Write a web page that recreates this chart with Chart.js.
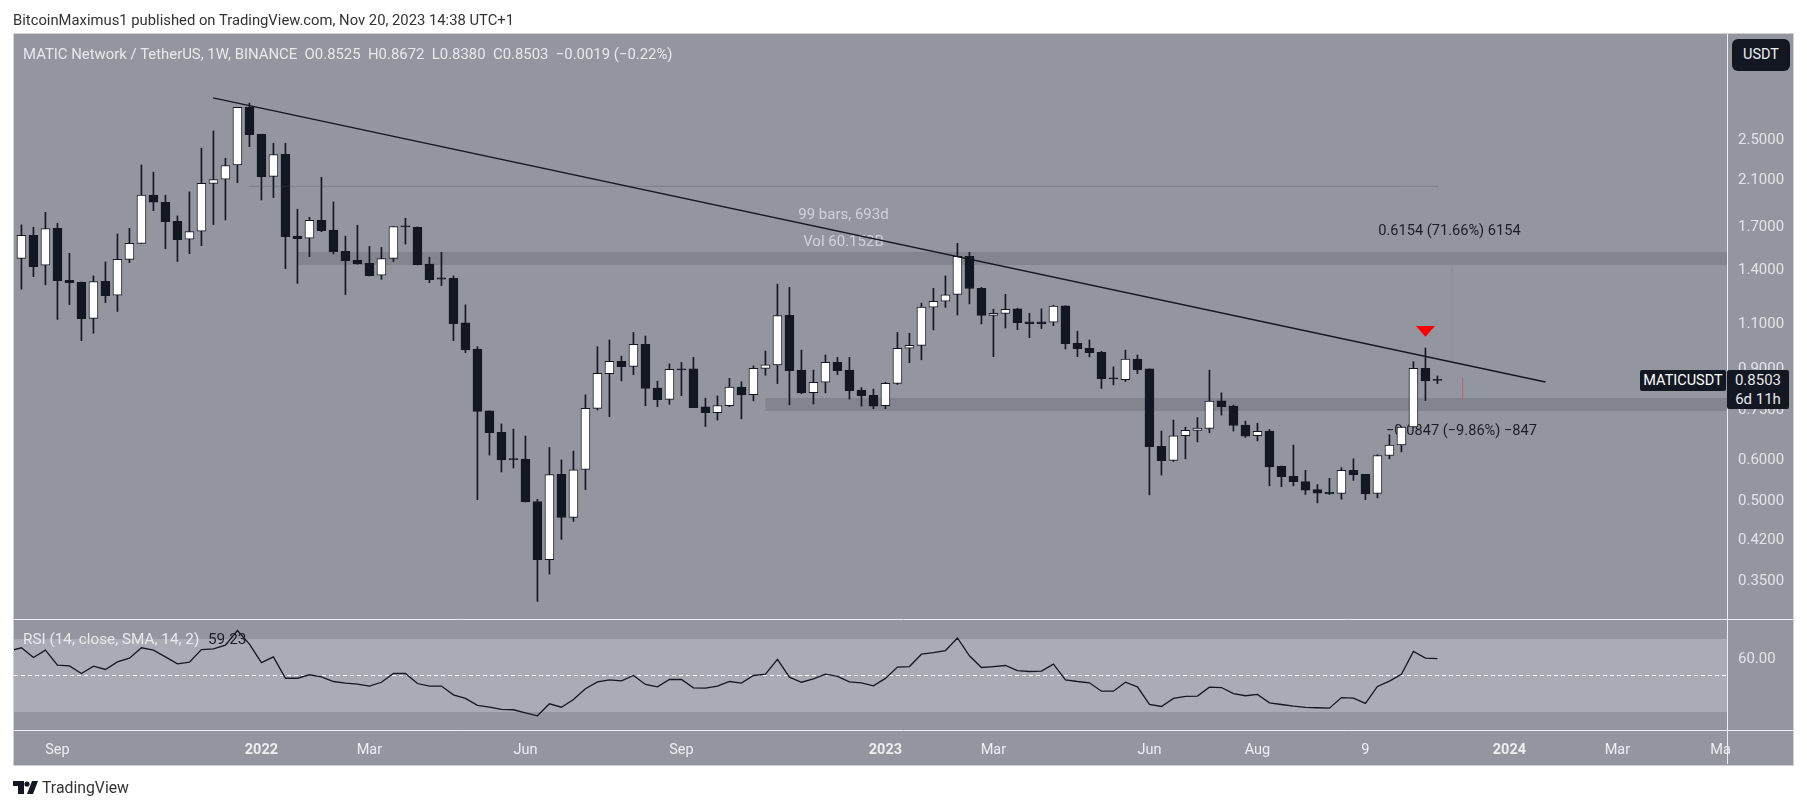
<!DOCTYPE html>
<html lang="en">
<head>
<meta charset="UTF-8">
<title>MATIC Network / TetherUS</title>
<script src="https://cdn.jsdelivr.net/npm/chart.js"></script>
<style>
    body { margin: 0; background: #fff; font-family: Roboto, sans-serif; }
    #frame { position: absolute; left: 13px; top: 33px; width: 1779px; height: 731px; background: #93969f; border: 1px solid #cfd1d6; }
    canvas { position: absolute; left: 0; top: 0; }
    .txt { position: absolute; white-space: pre; }
    #published { left: 13px; top: 11px; font-size: 14.8px; color: #333; }
    #legend { left: 23px; top: 45px; font-size: 14.9px; color: #e8e9ec; }
    #logoText { left: 42px; top: 778px; font-size: 15.8px; color: #333; }
    #usdt { left: 1732px; top: 39px; width: 58px; height: 32px; line-height: 32px; text-align: center; background: #131722; border-radius: 6px; color: #eceef2; font-size: 14.5px; }
    #symbol { left: 1640px; top: 370px; width: 86px; height: 21px; line-height: 22px; text-align: center; background: #131722; border-radius: 2px; color: #fff; font-size: 14.5px; }
    #lastPrice { left: 1727px; top: 370px; width: 62px; height: 38px; padding-top: 1px; background: #131722; border-radius: 2px; color: #e6e7ea; font-size: 15px; text-align: center; line-height: 19px; }
    svg { position: absolute; left: 13px; top: 781px; }
</style>
</head>
<body>
<div id="frame"></div>
<canvas id="chart" width="1807" height="809"></canvas>
<div class="txt" id="published">BitcoinMaximus1 published on TradingView.com, Nov 20, 2023 14:38 UTC+1</div>
<div class="txt" id="legend">MATIC Network / TetherUS, 1W, BINANCE  O0.8525  H0.8672  L0.8380  C0.8503  −0.0019 (−0.22%)</div>
<div class="txt" id="usdt">USDT</div>
<div class="txt" id="symbol">MATICUSDT</div>
<div class="txt" id="lastPrice">0.8503
6d 11h</div>
<svg width="25" height="13" viewBox="0 0 25 13"><path d="M0 0h11v13H5V5H0z" fill="#131722"/><circle cx="14" cy="3" r="2.6" fill="#131722"/><path d="M19 0h6l-5 13h-6z" fill="#131722"/></svg>
<div class="txt" id="logoText">TradingView</div>
<script>
// weekly candles, values
var opens = [1.466,1.625,1.421,1.676,1.329,1.317,1.121,1.323,1.243,1.459,
    1.567,1.943,1.883,1.730,1.596,1.654,2.049,2.086,2.224,2.877,
    2.551,2.114,2.333,1.618,1.603,1.737,1.662,1.512,1.453,1.434,
    1.359,1.466,1.692,1.684,1.428,1.343,1.341,1.099,.978,.742,
    .674,.599,.598,.495,.382,.559,.461,.571,.750,.876,
    .926,.905,.998,.821,.781,.895,.895,.755,.736,.759,
    .825,.798,.897,.911,1.136,.890,.805,.843,.921,.890,
    .814,.795,.759,.839,.981,.994,1.179,1.210,1.248,1.479,
    1.282,1.136,1.146,1.170,1.104,1.104,1.102,1.186,1.003,.981,
    .963,.860,.853,.935,.895,.633,.595,.664,.680,.686,
    .776,.758,.696,.664,.678,.579,.554,.541,.522,.516,
    .513,.569,.559,.513,.608,.637,.691,.897,.8525];
var closes = [1.625,1.413,1.674,1.327,1.315,1.120,1.321,1.241,1.459,1.567,
    1.943,1.883,1.727,1.593,1.651,2.049,2.083,2.218,2.877,2.547,
    2.111,2.329,1.615,1.601,1.737,1.659,1.510,1.451,1.430,1.357,
    1.464,1.689,1.687,1.425,1.333,1.335,1.095,.974,.740,.673,
    .596,.597,.494,.382,.558,.461,.570,.750,.877,.926,
    .904,.998,.820,.780,.893,.891,.753,.736,.760,.825,
    .797,.897,.911,1.135,.888,.804,.843,.921,.888,.812,
    .794,.758,.839,.981,.994,1.179,1.210,1.246,1.479,1.281,
    1.136,1.147,1.168,1.100,1.095,1.095,1.184,1.001,.979,.962,
    .857,.856,.935,.892,.632,.594,.664,.680,.687,.775,
    .756,.695,.663,.677,.578,.553,.541,.521,.514,.512,
    .569,.558,.512,.608,.637,.690,.897,.848,.8503];
var highs = [1.702,1.684,1.800,1.714,1.499,1.319,1.355,1.442,1.634,1.676,
    2.224,2.153,1.943,1.771,1.972,2.396,2.588,2.291,2.877,2.930,
    2.551,2.450,2.450,1.825,1.761,2.105,1.886,1.618,1.699,1.546,
    1.539,1.689,1.753,1.687,1.473,1.506,1.355,1.191,.988,.742,
    .700,.684,.663,.500,.630,.596,.620,.797,.988,1.018,
    .947,1.053,1.036,.847,.915,.921,.942,.785,.793,.858,
    .845,.907,.969,1.306,1.288,.973,.890,.952,.942,.942,
    .823,.818,.843,1.053,1.049,1.200,1.282,1.355,1.567,1.506,
    1.288,1.168,1.248,1.173,1.147,1.170,1.189,1.186,1.059,1.018,
    .968,.903,.973,.952,.895,.678,.712,.690,.720,.890,
    .804,.761,.709,.702,.683,.580,.637,.569,.534,.549,
    .576,.599,.559,.610,.667,.692,.924,.982,.8672];
var lows = [1.277,1.351,1.302,1.116,1.192,1.015,1.049,1.203,1.156,1.438,
    1.567,1.814,1.530,1.445,1.497,1.551,1.704,1.740,2.055,2.414,
    1.902,1.922,1.400,1.310,1.477,1.651,1.495,1.247,1.428,1.355,
    1.335,1.445,1.562,1.423,1.315,1.298,1.015,.962,.499,.609,
    .565,.575,.494,.317,.358,.418,.453,.522,.745,.723,
    .848,.872,.759,.756,.764,.794,.753,.692,.712,.756,
    .716,.776,.870,.838,.762,.801,.765,.804,.872,.782,
    .758,.749,.749,.835,.920,.932,1.065,1.177,1.138,1.196,
    1.094,.945,1.074,1.066,1.029,1.071,1.085,.978,.945,.944,
    .820,.833,.846,.876,.510,.557,.592,.599,.646,.673,
    .728,.678,.659,.649,.531,.529,.531,.511,.492,.511,
    .500,.544,.499,.503,.599,.618,.690,.777,.8380];
// first rsi value belongs to the week before the first candle
var rsiValues = [63.5,65.2,59.9,63.9,55.7,55.3,51.1,55.1,53.3,57.5,59.5,
    65.2,63.9,60.2,56.4,57.3,64.2,64.6,66.6,74.7,67.2,
    57.1,60.2,48.5,48.5,50.4,49.3,46.7,45.8,45.3,44.2,
    46.3,51.1,51.1,45.6,44.2,44.2,39.4,37.4,33.6,32.6,
    31.4,31.2,29.5,27.9,34.5,32.6,36.8,42.7,46.5,47.6,
    47.1,50,45.1,43.8,47.8,47.8,43.2,43.1,44.2,46.7,
    45.8,50,50.7,58.8,49.1,46.3,48.2,50.7,49.5,46.5,
    46,44.3,48.4,54.6,54.9,61.7,62.6,63.7,70.6,60.8,
    54.4,54.9,55.5,52.7,52.2,52.4,56.2,47.6,46.7,46,
    41.4,41.4,46.3,43.8,34.1,33,37.4,38.5,38.7,43.6,
    43.4,40.1,38.9,39.6,35,34.1,33.2,32.5,32.3,32.1,
    37.9,37.6,34.7,44,46.9,50.7,63.2,59.5,59.23];

var priceTicks = [2.5, 2.1, 1.7, 1.4, 1.1, 0.9, 0.75, 0.6, 0.5, 0.42, 0.35];
var rsiTicks = [60];
var timeTicks = [3, 20, 29, 42, 55, 72, 81, 94, 103, 112, 124, 133, 141.6];
var timeLabels = ['Sep', '2022', 'Mar', 'Jun', 'Sep', '2023', 'Mar', 'Jun', 'Aug', '9', '2024', 'Mar', 'Ma'];
var yearLabels = ['2022', '2023', '2024'];

// drawings on the price pane, as [week, price]
var trendLine = [[15.97, 3.0], [127.0, 0.844]];
var upperZone = [1.508, 1.423];
var upperZoneStart = 23.0;
var lowerZone = [0.786, 0.7416];
var lowerZoneStart = 62.0;
var rangeLine = [[18.95, 2.022], [118.1, 2.022]];
var greenMark = [[119.2, 1.423], [119.2, 0.92]];
var redMark = [[120.1, 0.86], [120.1, 0.78]];
var arrowMark = [117, 1.084, 1.033];

var DARK = '#131722';
var weeks = opens.map(function (v, i) { return i; });
var xMin = -0.62, xMax = 142.13;

function xy(list) {
    return list.map(function (p) { return { x: p[0], y: p[1] }; });
}

var panePlugin = {
    id: 'pane',
    beforeDatasetsDraw: function (chart) {
        var c = chart.ctx, x = chart.scales.x, y = chart.scales.y, r = chart.scales.rsi;
        var area = chart.chartArea;
        c.save();

        // rsi band
        c.fillStyle = '#a9acb5';
        c.fillRect(area.left, r.getPixelForValue(70), area.width, r.getPixelForValue(30) - r.getPixelForValue(70));

        // support / resistance zones
        c.fillStyle = '#82858e';
        [[upperZone, upperZoneStart], [lowerZone, lowerZoneStart]].forEach(function (z) {
            var top = y.getPixelForValue(z[0][0]), bottom = y.getPixelForValue(z[0][1]);
            var left = x.getPixelForValue(z[1]);
            c.fillRect(left, top, area.right - left, bottom - top);
        });

        // pane separators
        c.strokeStyle = '#eceef1';
        c.lineWidth = 1;
        c.beginPath();
        c.moveTo(area.left, Math.round(y.bottom) + 0.5);
        c.lineTo(1793, Math.round(y.bottom) + 0.5);
        c.moveTo(area.left, Math.round(area.bottom) + 0.5);
        c.lineTo(1793, Math.round(area.bottom) + 0.5);
        c.moveTo(Math.round(area.right) + 0.5, area.top);
        c.lineTo(Math.round(area.right) + 0.5, 764);
        c.stroke();

        // measure labels sit under the candles
        c.textBaseline = 'middle';
        c.textAlign = 'center';
        c.font = '15px Roboto';
        c.fillStyle = '#d0d2d7';
        c.fillText('99 bars, 693d', x.getPixelForValue(68.5), y.getPixelForValue(1.773));
        c.fillText('Vol 60.152B', x.getPixelForValue(68.5), y.getPixelForValue(1.578));
        c.font = '14.6px Roboto';
        c.fillStyle = '#1a1d26';
        c.fillText('0.6154 (71.66%) 6154', x.getPixelForValue(119), y.getPixelForValue(1.656));
        c.fillText('−0.0847 (−9.86%) −847', x.getPixelForValue(120), y.getPixelForValue(0.6772));

        // rsi legend
        c.font = '15.3px Roboto';
        c.textAlign = 'left';
        c.fillStyle = '#e8e9ec';
        c.fillText('RSI (14, close, SMA, 14, 2)', 23, 640);
        c.fillStyle = '#1a1d26';
        c.fillText('59.23', 208, 640);

        // red arrow over the rejection candle
        var ax = x.getPixelForValue(arrowMark[0]);
        c.fillStyle = '#ff0000';
        c.beginPath();
        c.moveTo(ax - 9.5, y.getPixelForValue(arrowMark[1]));
        c.lineTo(ax + 9.5, y.getPixelForValue(arrowMark[1]));
        c.lineTo(ax, y.getPixelForValue(arrowMark[2]));
        c.closePath();
        c.fill();
        c.restore();
    }
};

function thinLine(list, color) {
    return { type: 'line', data: xy(list), yAxisID: 'y', borderColor: color, borderWidth: 1, pointRadius: 0, fill: false };
}

new Chart(document.getElementById('chart'), {
    type: 'bar',
    plugins: [panePlugin],
    data: {
        datasets: [
            { type: 'line', data: xy(trendLine), yAxisID: 'y', borderColor: DARK, borderWidth: 1.3, pointRadius: 0 },
            { type: 'line', data: rsiValues.map(function (v, i) { return { x: i - 1, y: v }; }), yAxisID: 'rsi', borderColor: DARK, borderWidth: 1.3, pointRadius: 0 },
            { type: 'line', data: [{ x: xMin, y: 50 }, { x: xMax, y: 50 }], yAxisID: 'rsi', borderColor: '#ffffff', borderWidth: 1, borderDash: [4, 3], pointRadius: 0 },
            thinLine(rangeLine, 'rgba(70,75,85,0.3)'),
            thinLine(greenMark, 'rgba(110,135,120,0.15)'),
            thinLine(redMark, 'rgba(190,90,110,0.3)'),
            {
                data: weeks.map(function (i) { return { x: i, y: [opens[i], closes[i]] }; }),
                yAxisID: 'y',
                barThickness: 9,
                minBarLength: 1,
                borderWidth: 1,
                borderSkipped: false,
                borderColor: DARK,
                backgroundColor: function (ctx) {
                    return closes[ctx.dataIndex] > opens[ctx.dataIndex] ? '#ffffff' : DARK;
                }
            },
            {
                data: weeks.map(function (i) { return { x: i, y: [lows[i], highs[i]] }; }),
                yAxisID: 'y',
                barThickness: 1,
                borderWidth: 0,
                backgroundColor: DARK
            }
        ]
    },
    options: {
        responsive: false,
        animation: false,
        grouped: false,
        layout: { padding: { left: 14, top: 34, right: 14, bottom: 45 } },
        plugins: { legend: { display: false }, tooltip: { enabled: false } },
        scales: {
            x: {
                type: 'linear',
                offset: false,
                min: xMin,
                max: xMax,
                grid: { display: false, offset: false },
                border: { display: false },
                afterBuildTicks: function (scale) {
                    scale.ticks = timeTicks.map(function (v) { return { value: v }; });
                },
                afterFit: function (scale) { scale.height = 34; },
                ticks: {
                    autoSkip: false,
                    maxRotation: 0,
                    padding: 4,
                    color: '#eceef1',
                    font: function (ctx) {
                        var isYear = yearLabels.indexOf(timeLabels[ctx.index]) >= 0;
                        return { family: 'Roboto', size: 14.5, weight: isYear ? 'bold' : 'normal' };
                    },
                    callback: function (v, i) { return timeLabels[i]; }
                }
            },
            y: {
                type: 'logarithmic',
                position: 'right',
                stack: 'panes',
                stackWeight: 585,
                min: 0.293,
                max: 3.99,
                grid: { display: false },
                border: { display: false },
                afterBuildTicks: function (scale) {
                    scale.ticks = priceTicks.map(function (v) { return { value: v }; });
                },
                afterFit: function (scale) { scale.width = 66; },
                ticks: {
                    autoSkip: false,
                    crossAlign: 'center',
                    labelOffset: 2,
                    color: '#e3e4e8',
                    font: { family: 'Roboto', size: 15 },
                    callback: function (v) { return Number(v).toFixed(4); }
                }
            },
            rsi: {
                type: 'linear',
                position: 'right',
                stack: 'panes',
                stackWeight: 111,
                min: 20.1,
                max: 81,
                grid: { display: false },
                border: { display: false },
                afterBuildTicks: function (scale) {
                    scale.ticks = rsiTicks.map(function (v) { return { value: v }; });
                },
                afterFit: function (scale) { scale.width = 66; },
                ticks: {
                    autoSkip: false,
                    crossAlign: 'center',
                    labelOffset: 2,
                    color: '#e3e4e8',
                    font: { family: 'Roboto', size: 15 },
                    callback: function (v) { return Number(v).toFixed(2); }
                }
            }
        }
    }
});
</script>
</body>
</html>
